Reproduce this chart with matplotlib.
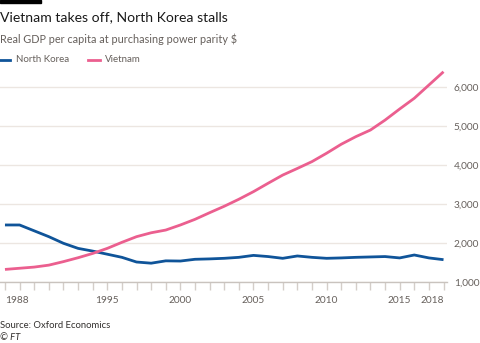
import matplotlib
matplotlib.use("Agg")
import matplotlib.pyplot as plt
from matplotlib.lines import Line2D

years = list(range(1988, 2019))
north_korea = [2470, 2470, 2320, 2170, 2000, 1870, 1800, 1720, 1640, 1520, 1490,
               1550, 1545, 1590, 1600, 1615, 1640, 1690, 1660, 1615, 1675, 1640,
               1615, 1625, 1640, 1650, 1660, 1625, 1700, 1625, 1580]
vietnam = [1330, 1360, 1390, 1440, 1530, 1630, 1740, 1870, 2025, 2170, 2270,
           2340, 2470, 2615, 2785, 2950, 3130, 3325, 3540, 3750, 3920, 4095,
           4310, 4540, 4735, 4905, 5160, 5445, 5720, 6060, 6400]
x_ticks = [1988, 1995, 2000, 2005, 2010, 2015, 2018]
y_ticks = [1000, 2000, 3000, 4000, 5000, 6000]

title = "Vietnam takes off, North Korea stalls"
subtitle = "Real GDP per capita at purchasing power parity $"
source = "Source: Oxford Economics"
credit = "© FT"

BLUE = "#0f5499"
PINK = "#eb5f8f"
GRID = "#ece6e1"
TXT = "#66605c"
FONT = "Lato"

plt.rcParams['font.family'] = [FONT, 'DejaVu Sans']

fig = plt.figure(figsize=(4.8, 3.43), dpi=100)
fig.patch.set_facecolor("white")
ax = fig.add_axes([0.0, 0.177, 0.931, 0.6195])

ax.plot(years, north_korea, color=BLUE, lw=2.0, solid_capstyle='butt', zorder=3)
ax.plot(years, vietnam, color=PINK, lw=2.0, solid_capstyle='butt', zorder=3)

ax.set_xlim(1987.66, 2018.23)
ax.set_ylim(1000, 6450)

for s in ["top", "left", "right"]:
    ax.spines[s].set_visible(False)
ax.spines["bottom"].set_color("#c9c3be")
ax.spines["bottom"].set_linewidth(1.0)

ax.yaxis.tick_right()
ax.set_yticks(y_ticks)
ax.set_yticklabels([f"{v:,}" for v in y_ticks])
ax.tick_params(axis='y', length=0, pad=5, labelsize=7.3, labelcolor=TXT)
ax.grid(axis='y', color=GRID, lw=1.0, zorder=0)

ax.set_xticks(x_ticks)
ax.set_xticklabels([str(v) for v in x_ticks])
ax.set_xticks(years, minor=True)
ax.tick_params(axis='x', which='both', length=6, color="#d4cec9", width=1.0,
               labelsize=7.3, labelcolor=TXT, pad=4)
xl = ax.get_xticklabels()
xl[0].set_ha('left')
xl[-1].set_ha('right')

# top black bar
fig.patches.append(plt.Rectangle((0, 1 - 3/343), 41/480, 3/343, transform=fig.transFigure,
                                 color="black", zorder=5))

fig.text(0.0, 1 - 17/343, title, fontsize=10.1, color="#1a1a1a", va='center', ha='left')
fig.text(0.0, 1 - 39/343, subtitle, fontsize=7.8, color=TXT, va='center', ha='left')

# legend
ly = 1 - 60/343
fig.add_artist(Line2D([0, 10/480], [ly, ly], color=BLUE, lw=2, transform=fig.transFigure))
fig.text(16/480, ly, "North Korea", fontsize=7.0, color=TXT, va='center', ha='left')
fig.add_artist(Line2D([88/480, 100/480], [ly, ly], color=PINK, lw=2, transform=fig.transFigure))
fig.text(105/480, ly, "Vietnam", fontsize=7.0, color=TXT, va='center', ha='left')

fig.text(0.0, 1 - 325/343, source, fontsize=6.8, color="#33302e", va='center', ha='left')
fig.text(0.0, 1 - 338/343, credit, fontsize=6.8, color="#33302e", va='center', ha='left',
         style='italic')

fig.savefig("out.png", dpi=100, facecolor="white")
